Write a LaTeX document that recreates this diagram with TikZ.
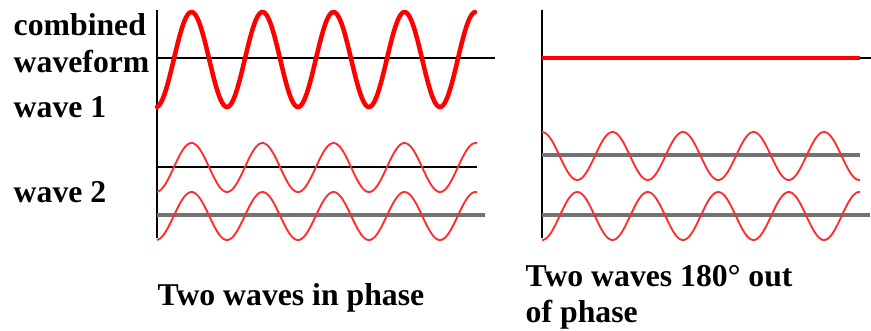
\documentclass[tikz,border=0pt]{standalone}
\usepackage{fontspec}
\setmainfont{Liberation Serif}
\definecolor{wavered}{RGB}{255,45,45}
\definecolor{zerogray}{RGB}{115,115,115}

\begin{document}
\begin{tikzpicture}[x=0.75pt, y=-0.75pt, line width=1.1pt,
    axisline/.style={black, line width=1.2pt},
    zeroline/.style={black, line width=1.1pt},
    grayline/.style={zerogray, line width=2.3pt},
    sumwave/.style={red, line width=3.4pt, line cap=round},
    thinwave/.style={wavered, line width=1.4pt},
    lbltext/.style={inner sep=0pt, anchor=base west,
      font=\fontsize{23.8}{26.3}\selectfont\bfseries}]
  \useasboundingbox (0,0) rectangle (871,330);

  % in phase
  \coordinate (LT) at (157,10);
  \coordinate (LB) at (157,238);
  \draw[axisline] (LT) -- (LB);
  \draw[zeroline] (157,58) -- (495,58);
  \draw[zeroline] (157,167) -- (477,167);
  \draw[grayline] (157,215) -- (485,215);
  \draw[sumwave] plot[domain=157:475, samples=220]
    (\x, {59.5 + 47.5*cos((\x-156)/71*360)});
  \draw[thinwave] plot[domain=157:477, samples=220]
    (\x, {167.5 + 24.5*cos((\x-156)/71*360)});
  \draw[thinwave] plot[domain=157:477, samples=220]
    (\x, {216 + 24*cos((\x-156)/71*360)});

  % 180 out of phase
  \coordinate (RT) at (542,10);
  \coordinate (RB) at (542,238);
  \draw[axisline] (RT) -- (RB);
  \draw[zeroline] (542,58) -- (871,58);
  \draw[sumwave, line cap=butt] (542,58) -- (860,58);
  \draw[grayline] (542,155) -- (860,155);
  \draw[grayline] (542,215) -- (870,215);
  \draw[thinwave] plot[domain=542:860, samples=220]
    (\x, {156 - 24*cos((\x-542)/70.5*360)});
  \draw[thinwave] plot[domain=542:860, samples=220]
    (\x, {216 + 24*cos((\x-542)/70.5*360)});

  \node[lbltext] (comb) at (13,35) {combined};
  \node[lbltext] (form) at (13,72) {waveform};
  \node[lbltext] (wone) at (13,117) {wave 1};
  \node[lbltext] (wtwo) at (13,202) {wave 2};
  \node[lbltext] (inph) at (157,305) {Two waves in phase};
  \node[lbltext, align=left] (outph) at (525,322)
    {Two waves 180° out\\of phase};
\end{tikzpicture}
\end{document}
